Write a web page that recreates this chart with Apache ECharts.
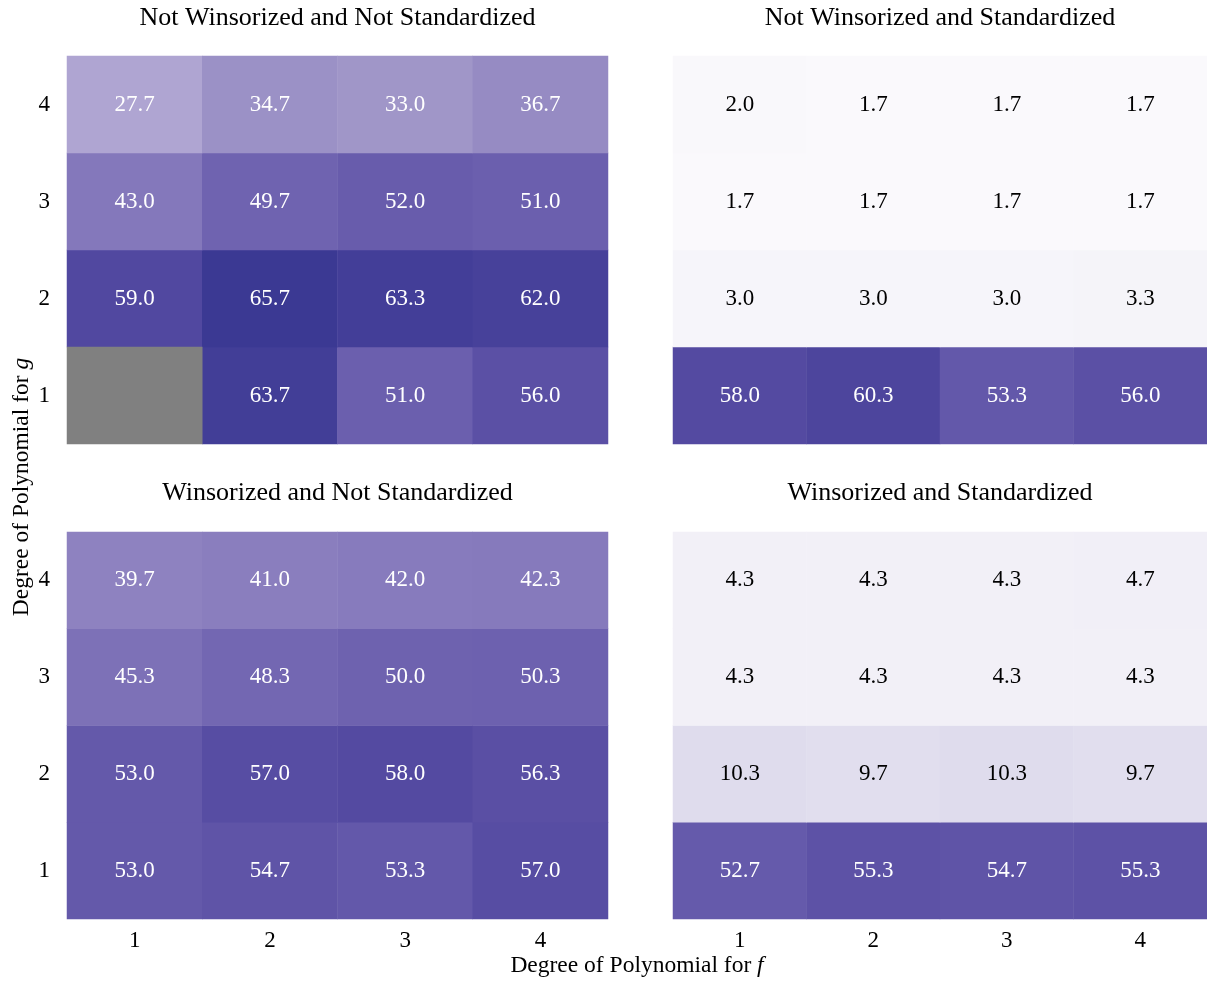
<!DOCTYPE html>
<html>
<head>
<meta charset="utf-8">
<script src="https://cdn.jsdelivr.net/npm/echarts@6/dist/echarts.min.js"></script>
<style>
  html, body { margin: 0; padding: 0; background: #fff; }
  #chart { width: 1207px; height: 982px; }
</style>
</head>
<body>
<div id="chart"></div>
<script>
// Degree categories for f (columns) and g (rows, bottom to top)
const fDegrees = ['1', '2', '3', '4'];
const gDegrees = ['1', '2', '3', '4'];

// Panel titles
const panelTitles = [
  'Not Winsorized and Not Standardized',
  'Not Winsorized and Standardized',
  'Winsorized and Not Standardized',
  'Winsorized and Standardized'
];

// Values per panel; each inner array is one g degree (1..4), columns are f degree 1..4.
// null marks a missing cell.
const notWinNotStd = [
  [null, 63.7, 51.0, 56.0],
  [59.0, 65.7, 63.3, 62.0],
  [43.0, 49.7, 52.0, 51.0],
  [27.7, 34.7, 33.0, 36.7]
];
const notWinStd = [
  [58.0, 60.3, 53.3, 56.0],
  [3.0, 3.0, 3.0, 3.3],
  [1.7, 1.7, 1.7, 1.7],
  [2.0, 1.7, 1.7, 1.7]
];
const winNotStd = [
  [53.0, 54.7, 53.3, 57.0],
  [53.0, 57.0, 58.0, 56.3],
  [45.3, 48.3, 50.0, 50.3],
  [39.7, 41.0, 42.0, 42.3]
];
const winStd = [
  [52.7, 55.3, 54.7, 55.3],
  [10.3, 9.7, 10.3, 9.7],
  [4.3, 4.3, 4.3, 4.3],
  [4.3, 4.3, 4.3, 4.7]
];

const panels = [notWinNotStd, notWinStd, winNotStd, winStd];

// Shared colour range over all panels
const allValues = panels.flat(2).filter((v) => v !== null);
const vMin = Math.min(...allValues);
const vMax = Math.max(...allValues);

const FONT = '"Liberation Serif", "DejaVu Serif", serif';

// Grid rectangles (left, top, width, height)
const grids = [
  { left: 67, top: 56, width: 541, height: 388 },
  { left: 673, top: 56, width: 534, height: 388 },
  { left: 67, top: 532, width: 541, height: 387 },
  { left: 673, top: 532, width: 534, height: 387 }
];

const xAxes = grids.map((g, i) => ({
  type: 'category',
  gridIndex: i,
  data: fDegrees,
  axisLine: { show: false },
  axisTick: { show: false },
  splitArea: { show: false },
  splitLine: { show: false },
  axisLabel: {
    show: i >= 2,
    color: '#000',
    fontFamily: FONT,
    fontSize: 23,
    margin: 10
  }
}));

const yAxes = grids.map((g, i) => ({
  type: 'category',
  gridIndex: i,
  data: gDegrees,
  axisLine: { show: false },
  axisTick: { show: false },
  splitArea: { show: false },
  splitLine: { show: false },
  axisLabel: {
    show: i % 2 === 0,
    color: '#000',
    fontFamily: FONT,
    fontSize: 23,
    margin: 17
  }
}));

const valueSeries = [];
const missingSeries = [];
panels.forEach((rows, p) => {
  const cells = [];
  const missing = [];
  rows.forEach((row, gi) => {
    row.forEach((v, fi) => {
      if (v === null) {
        missing.push([fi, gi, 0]);
      } else {
        cells.push({
          value: [fi, gi, v],
          label: { color: v < 20 ? '#000' : '#fff' }
        });
      }
    });
  });
  valueSeries.push({
    type: 'heatmap',
    xAxisIndex: p,
    yAxisIndex: p,
    data: cells,
    itemStyle: { borderWidth: 0 },
    label: {
      show: true,
      fontFamily: FONT,
      fontSize: 23,
      formatter: (d) => d.value[2].toFixed(1)
    },
    emphasis: { disabled: true }
  });
  missingSeries.push({
    type: 'heatmap',
    xAxisIndex: p,
    yAxisIndex: p,
    data: missing,
    itemStyle: { color: '#808080', borderWidth: 0 },
    label: { show: false },
    emphasis: { disabled: true }
  });
});

const titleGraphics = panelTitles.map((t, i) => ({
  type: 'text',
  x: grids[i].left + grids[i].width / 2,
  y: i < 2 ? 18 : 493,
  style: {
    text: t,
    fontFamily: FONT,
    fontSize: 26,
    fill: '#000',
    textAlign: 'center',
    textVerticalAlign: 'middle'
  }
}));

const chart = echarts.init(document.getElementById('chart'));
chart.setOption({
  backgroundColor: '#fff',
  animation: false,
  grid: grids,
  xAxis: xAxes,
  yAxis: yAxes,
  visualMap: {
    type: 'continuous',
    show: false,
    min: vMin,
    max: vMax,
    seriesIndex: [0, 1, 2, 3],
    inRange: {
      color: ['#faf9fc', '#e1deee', '#ccc6e3', '#b4abd5', '#9e94c7', '#887cbd', '#6f63b0', '#554ba2', '#3b3993']
    }
  },
  series: valueSeries.concat(missingSeries),
  graphic: titleGraphics.concat([
    {
      type: 'text',
      x: 637,
      y: 966,
      style: {
        text: 'Degree of Polynomial for {i|f}',
        fontFamily: FONT,
        fontSize: 23.5,
        fill: '#000',
        textAlign: 'center',
        textVerticalAlign: 'middle',
        rich: { i: { fontFamily: FONT, fontSize: 23.5, fontStyle: 'italic', fill: '#000' } }
      }
    },
    {
      type: 'text',
      x: 22,
      y: 487,
      rotation: Math.PI / 2,
      style: {
        text: 'Degree of Polynomial for {i|g}',
        fontFamily: FONT,
        fontSize: 23.5,
        fill: '#000',
        textAlign: 'center',
        textVerticalAlign: 'middle',
        rich: { i: { fontFamily: FONT, fontSize: 23.5, fontStyle: 'italic', fill: '#000' } }
      }
    }
  ])
});
</script>
</body>
</html>
